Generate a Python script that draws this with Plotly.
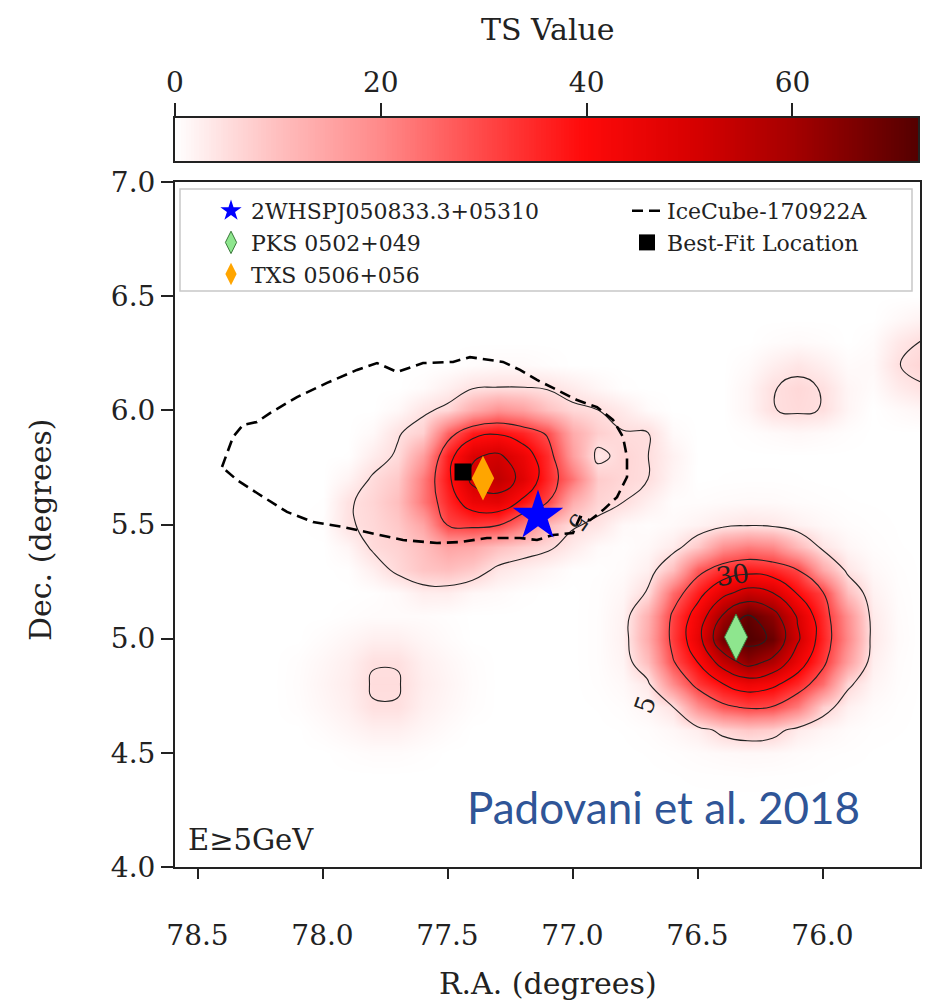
import numpy as np
import plotly.graph_objects as go

# ---------------- data ----------------
ra_grid = [75.6, 75.7, 75.8, 75.9, 76.0, 76.1, 76.2, 76.3, 76.4, 76.5, 76.6, 76.7, 76.8, 76.9,
           77.0, 77.1, 77.2, 77.3, 77.4, 77.5, 77.6, 77.7, 77.8, 77.9, 78.0, 78.1, 78.2, 78.3,
           78.4, 78.5, 78.6]
dec_grid = [4.0, 4.1, 4.2, 4.3, 4.4, 4.5, 4.6, 4.7, 4.8, 4.9, 5.0, 5.1, 5.2, 5.3, 5.4, 5.5,
            5.6, 5.7, 5.8, 5.9, 6.0, 6.1, 6.2, 6.3, 6.4, 6.5, 6.6, 6.7, 6.8, 6.9, 7.0]
Z0 = [0] * 31
ts_grid = [
    Z0, Z0, Z0, Z0,
    [0, 0, 0, 0, 0.1, 0.15, 0.2, 0.25, 0.2, 0.15, 0.05, 0, 0, 0, 0, 0, 0, 0, 0, 0, 0, 0, 0, 0, 0, 0, 0, 0, 0, 0, 0],
    [0, 0, 0.05, 0.2, 0.3, 0.6, 1.0, 1.1, 0.9, 0.6, 0.3, 0.1, 0, 0, 0, 0, 0, 0, 0, 0, 0.3, 0.6, 0.6, 0.3, 0, 0, 0, 0, 0, 0, 0],
    [0, 0.1, 0.2, 0.6, 1.5, 3.0, 7.3, 8.5, 6.5, 2.7, 1.2, 0.4, 0.1, 0, 0, 0, 0, 0, 0, 0.6, 1.4, 2.4, 2.4, 1.4, 0.6, 0, 0, 0, 0, 0, 0],
    [0, 0.2, 0.7, 2.2, 7.5, 22.2, 29.8, 31.1, 28, 19, 4.5, 1.6, 0.45, 0.1, 0, 0, 0, 0, 0.4, 1.3, 2.4, 4.8, 4.8, 2.4, 1.3, 0.4, 0, 0, 0, 0, 0],
    [0, 0.4, 1.6, 6.0, 24.4, 35.2, 41.8, 44.5, 39.6, 32.8, 19.6, 3.5, 1.0, 0.3, 0, 0, 0, 0, 0.5, 1.6, 2.8, 5.3, 5.3, 2.8, 1.6, 0.5, 0, 0, 0, 0, 0],
    [0, 0.5, 2.5, 16, 32.8, 44.9, 58, 64, 54.5, 40.2, 29.2, 10.4, 1.7, 0.4, 0, 0, 0, 0, 0.4, 1.3, 2.4, 4.8, 4.8, 2.4, 1.3, 0.4, 0, 0, 0, 0, 0],
    [0, 0.7, 3.4, 19.8, 35.8, 51.5, 69, 73, 68, 46.2, 32.2, 13.9, 2.1, 0.4, 0, 0, 0, 0, 0, 0.6, 1.4, 2.4, 2.4, 1.4, 0.6, 0, 0, 0, 0, 0, 0],
    [0, 0.6, 3.1, 18.6, 34.7, 49.1, 63.9, 70.5, 60.4, 44, 31.3, 12.7, 1.95, 0.4, 0, 0, 0, 0, 0, 0.3, 0.6, 0.6, 0.6, 0.3, 0, 0, 0, 0, 0, 0, 0],
    [0, 0.45, 2.1, 10.0, 31, 39.4, 50.2, 53.6, 47.5, 36.8, 24.8, 5.5, 1.35, 0.35, 0, 0, 0.2, 0.8, 1.2, 2.7, 2.7, 0.9, 0.2, 0, 0, 0, 0, 0, 0, 0, 0],
    [0, 0.3, 1.1, 3.8, 14.0, 30.4, 35.5, 37.1, 34.4, 27.2, 10.0, 2.4, 0.7, 0.2, 0.2, 1.3, 2.5, 3.8, 8, 10, 9, 6, 2.5, 0.2, 0, 0, 0, 0, 0, 0, 0],
    [0, 0.1, 0.45, 1.4, 4.0, 11.0, 20, 22, 18.6, 8.5, 3.0, 1.1, 0.35, 0.8, 3.1, 5.8, 7.5, 10, 14, 15, 10, 7, 5.6, 1.5, 0, 0, 0, 0, 0, 0, 0],
    [0, 0.05, 0.2, 0.45, 1.1, 2.2, 3.6, 4.1, 3.2, 1.9, 0.9, 0.4, 1.0, 4.1, 5.6, 10.9, 22.5, 31.2, 32.5, 30.5, 14.8, 8.5, 6.0, 4.5, 0.3, 0, 0, 0, 0, 0, 0],
    [0, 0, 0.05, 0.1, 0.3, 0.5, 0.8, 0.85, 0.7, 0.45, 0.4, 2.5, 5.15, 6.6, 13.3, 30.4, 38.6, 47, 45, 35, 22.8, 10.1, 6.5, 4.4, 0.1, 0, 0, 0, 0, 0, 0],
    [0, 0, 0, 0, 0, 0.1, 0.15, 0.15, 0.1, 0, 1.6, 5.1, 6.2, 8.0, 23.2, 35.2, 48, 55, 52, 38, 22.2, 8.4, 5.5, 1.8, 0, 0, 0, 0, 0, 0, 0],
    [0, 0, 0, 0, 0, 0, 0, 0, 0, 0, 2.1, 5.1, 6.5, 3.5, 16, 34.4, 45, 51.5, 49, 36.7, 16.1, 5.6, 2.9, 0.1, 0, 0, 0, 0, 0, 0, 0],
    [0, 0, 0, 0.3, 0.8, 1.2, 0.8, 0.3, 0, 0, 0.8, 5.2, 5.3, 7.5, 13.6, 29.0, 35.6, 39.3, 37.1, 26, 7.2, 4.55, 1.0, 0, 0, 0, 0, 0, 0, 0, 0],
    [1.5, 0.8, 0, 1.5, 4.85, 5.6, 4.85, 1.5, 0, 0, 0, 0.8, 3.2, 5.1, 6.1, 9.7, 15.8, 18.4, 13.6, 6.1, 4.1, 1.1, 0, 0, 0, 0, 0, 0, 0, 0, 0],
    [4.6, 3.0, 0.6, 1.5, 4.75, 6.0, 4.75, 1.5, 0, 0, 0, 0, 0.2, 1.4, 3.0, 4.5, 5.1, 5.1, 4.5, 2.4, 0.65, 0, 0, 0, 0, 0, 0, 0, 0, 0, 0],
    [6.5, 4.8, 1.0, 0.7, 2.5, 3.9, 2.5, 0.7, 0, 0, 0, 0, 0, 0, 0, 0.4, 0.85, 0.85, 0.5, 0.05, 0, 0, 0, 0, 0, 0, 0, 0, 0, 0, 0],
    [5.3, 3.5, 0.6, 0, 0.5, 0.8, 0.5, 0, 0, 0, 0, 0, 0, 0, 0, 0, 0, 0, 0, 0, 0, 0, 0, 0, 0, 0, 0, 0, 0, 0, 0],
    [2.0, 1.0, 0, 0, 0, 0, 0, 0, 0, 0, 0, 0, 0, 0, 0, 0, 0, 0, 0, 0, 0, 0, 0, 0, 0, 0, 0, 0, 0, 0, 0],
    Z0, Z0, Z0, Z0, Z0, Z0,
]
ts_max = 72.2
contour_levels_low = [5]
contour_levels_high = [30, 40, 50, 60, 70]

icecube_ra = [78.402, 78.358, 78.318, 78.262, 78.21, 78.102, 77.982, 77.862, 77.782, 77.702,
              77.598, 77.478, 77.41, 77.278, 77.21, 77.142, 77.078, 76.982, 76.902, 76.838,
              76.798, 76.782, 76.782, 76.822, 76.878, 76.93, 76.97, 76.998, 77.078, 77.142,
              77.21, 77.342, 77.45, 77.542, 77.678, 77.81, 77.918, 78.038, 78.142, 78.262,
              78.342, 78.402]
icecube_dec = [5.752, 5.883, 5.936, 5.949, 5.988, 6.058, 6.120, 6.177, 6.207, 6.168,
               6.207, 6.212, 6.233, 6.212, 6.177, 6.133, 6.098, 6.045, 6.014, 5.958,
               5.883, 5.795, 5.708, 5.620, 5.563, 5.519, 5.533, 5.463, 5.454, 5.432,
               5.441, 5.441, 5.423, 5.419, 5.432, 5.463, 5.489, 5.511, 5.555, 5.638,
               5.695, 5.752]

whsp_pos = (77.138, 5.537)
pks_pos = (76.346, 5.007)
txs_pos = (77.358, 5.703)
bestfit_pos = (77.438, 5.730)

x_ticks = [78.5, 78.0, 77.5, 77.0, 76.5, 76.0]
y_ticks = [4.0, 4.5, 5.0, 5.5, 6.0, 6.5, 7.0]
cb_ticks = [0, 20, 40, 60]

# ---------------- style ----------------
SERIF = "DejaVu Serif"
INK = "#222222"
colorscale = [
    [0.0, "#ffffff"], [0.07, "#ffdede"], [0.14, "#ffbebe"], [0.28, "#ff8888"],
    [0.42, "#ff4646"], [0.55, "#ff0a0a"], [0.70, "#d60000"], [0.83, "#a60000"],
    [1.0, "#550000"],
]

W, H = 930, 1005
def px(x):
    return x / W
def py(y):
    return 1 - y / H

fig = go.Figure()

fig.add_trace(go.Heatmap(
    x=ra_grid, y=dec_grid, z=ts_grid, zmin=0, zmax=ts_max, zsmooth="best",
    colorscale=colorscale, showscale=False, hoverinfo="skip",
))
fig.add_trace(go.Contour(
    x=ra_grid, y=dec_grid, z=ts_grid, showscale=False, hoverinfo="skip",
    autocontour=False,
    contours=dict(coloring="none", start=contour_levels_low[0], end=contour_levels_low[-1], size=1),
    line=dict(color=INK, width=1.1, smoothing=1.3), showlegend=False,
))
fig.add_trace(go.Contour(
    x=ra_grid, y=dec_grid, z=ts_grid, showscale=False, hoverinfo="skip",
    autocontour=False,
    contours=dict(coloring="none", start=contour_levels_high[0], end=contour_levels_high[-1],
                  size=contour_levels_high[1] - contour_levels_high[0]),
    line=dict(color=INK, width=1.1, smoothing=1.3), showlegend=False,
))

fig.add_trace(go.Scatter(
    x=icecube_ra, y=icecube_dec, mode="lines", name="IceCube-170922A",
    line=dict(color="black", width=2.6, dash="11px,6px"), legend="legend2",
))
fig.add_trace(go.Scatter(
    x=[bestfit_pos[0]], y=[bestfit_pos[1]], mode="markers", name="Best-Fit Location",
    marker=dict(symbol="square", size=17, color="black"), legend="legend2",
))
fig.add_trace(go.Scatter(
    x=[whsp_pos[0]], y=[whsp_pos[1]], mode="markers", name="2WHSPJ050833.3+05310",
    marker=dict(symbol="star", size=38, color="#0000ff"), legend="legend",
))
fig.add_trace(go.Scatter(
    x=[pks_pos[0]], y=[pks_pos[1]], mode="markers", name="PKS 0502+049",
    marker=dict(symbol="diamond-tall", size=33, color="#8ee68e",
                line=dict(color="#3a7a3a", width=1)), legend="legend",
))
fig.add_trace(go.Scatter(
    x=[txs_pos[0]], y=[txs_pos[1]], mode="markers", name="TXS 0506+056",
    marker=dict(symbol="diamond-tall", size=32, color="#ffa500"), legend="legend",
))

# colour bar drawn on its own axis (ticks on top like the reference)
cb_values = np.linspace(0, ts_max, 300)
fig.add_trace(go.Heatmap(
    x=cb_values, y=[0], z=[cb_values], zmin=0, zmax=ts_max, colorscale=colorscale,
    showscale=False, hoverinfo="skip", xaxis="x2", yaxis="y2",
))

axis_common = dict(showgrid=False, zeroline=False, showline=True, mirror=True,
                   linecolor=INK, linewidth=2, ticks="outside", tickcolor=INK,
                   tickwidth=1.5, automargin=False)

fig.update_layout(
    width=W, height=H, margin=dict(l=0, r=0, t=0, b=0, autoexpand=False),
    paper_bgcolor="white", plot_bgcolor="white",
    xaxis=dict(domain=[px(175), px(920)], range=[78.59, 75.61], tickvals=x_ticks,
               tickformat=".1f", ticklen=10, ticklabelstandoff=32,
               tickfont=dict(family=SERIF, size=28, color=INK), anchor="y",
               **axis_common),
    yaxis=dict(domain=[py(867), py(182)], range=[4.0, 7.0], tickvals=y_ticks,
               tickformat=".1f", ticklen=12,
               tickfont=dict(family=SERIF, size=28, color=INK), anchor="x",
               **axis_common),
    xaxis2=dict(domain=[px(175), px(918)], range=[0, ts_max], side="top", anchor="y2",
                tickvals=cb_ticks, ticks="outside", ticklen=13, tickwidth=1.5,
                tickcolor=INK, showline=True, mirror=True, linecolor=INK,
                linewidth=1.5, showgrid=False, zeroline=False, ticklabelstandoff=0,
                automargin=False, tickfont=dict(family=SERIF, size=28, color=INK)),
    yaxis2=dict(domain=[py(161), py(118)], range=[-0.5, 0.5], anchor="x2",
                showticklabels=False, ticks="", showline=True, mirror=True, automargin=False,
                linecolor=INK, linewidth=1.5, showgrid=False, zeroline=False),
    legend=dict(x=px(211), y=py(190), xanchor="left", yanchor="top",
                bgcolor="rgba(0,0,0,0)", borderwidth=0, tracegroupgap=0,
                font=dict(family=SERIF, size=22, color=INK)),
    legend2=dict(x=px(627), y=py(190), xanchor="left", yanchor="top",
                 bgcolor="rgba(0,0,0,0)", borderwidth=0, tracegroupgap=0,
                 font=dict(family=SERIF, size=22, color=INK)),
    shapes=[dict(type="rect", xref="paper", yref="paper", x0=px(180), x1=px(912),
                 y0=py(291), y1=py(189), line=dict(color="#c8c8c8", width=1.5),
                 fillcolor="rgba(255,255,255,0.85)", layer="above")],
    annotations=[
        dict(text="TS Value", x=px(548), y=py(30), xref="paper", yref="paper",
             xanchor="center", yanchor="middle",
             showarrow=False, font=dict(family=SERIF, size=30, color=INK)),
        dict(text="R.A. (degrees)", x=px(548), y=py(983), xref="paper", yref="paper",
             xanchor="center", yanchor="middle",
             showarrow=False, font=dict(family=SERIF, size=30, color=INK)),
        dict(text="Dec. (degrees)", x=px(40), y=py(530), xref="paper", yref="paper",
             xanchor="center", yanchor="middle",
             showarrow=False, textangle=-90, font=dict(family=SERIF, size=30, color=INK)),
        dict(text="E≥5GeV", x=px(186), y=py(840), xref="paper", yref="paper",
             xanchor="left", yanchor="middle", showarrow=False,
             font=dict(family=SERIF, size=29, color=INK)),
        dict(text="Padovani et al. 2018", x=px(663), y=py(807), xref="paper", yref="paper",
             xanchor="center", yanchor="middle",
             showarrow=False, font=dict(family="Lato", size=44, color="#2f5597")),
        dict(text="30", x=76.36, y=5.28, xref="x", yref="y", showarrow=False, textangle=-8,
             xanchor="center", yanchor="middle",
             font=dict(family=SERIF, size=26, color=INK)),
        dict(text="5", x=76.71, y=4.71, xref="x", yref="y", showarrow=False, textangle=-70,
             xanchor="center", yanchor="middle",
             font=dict(family=SERIF, size=26, color=INK)),
        dict(text="5", x=76.98, y=5.51, xref="x", yref="y", showarrow=False, textangle=125,
             xanchor="center", yanchor="middle",
             font=dict(family=SERIF, size=24, color=INK)),
    ],
)

fig.write_html("out.html")
